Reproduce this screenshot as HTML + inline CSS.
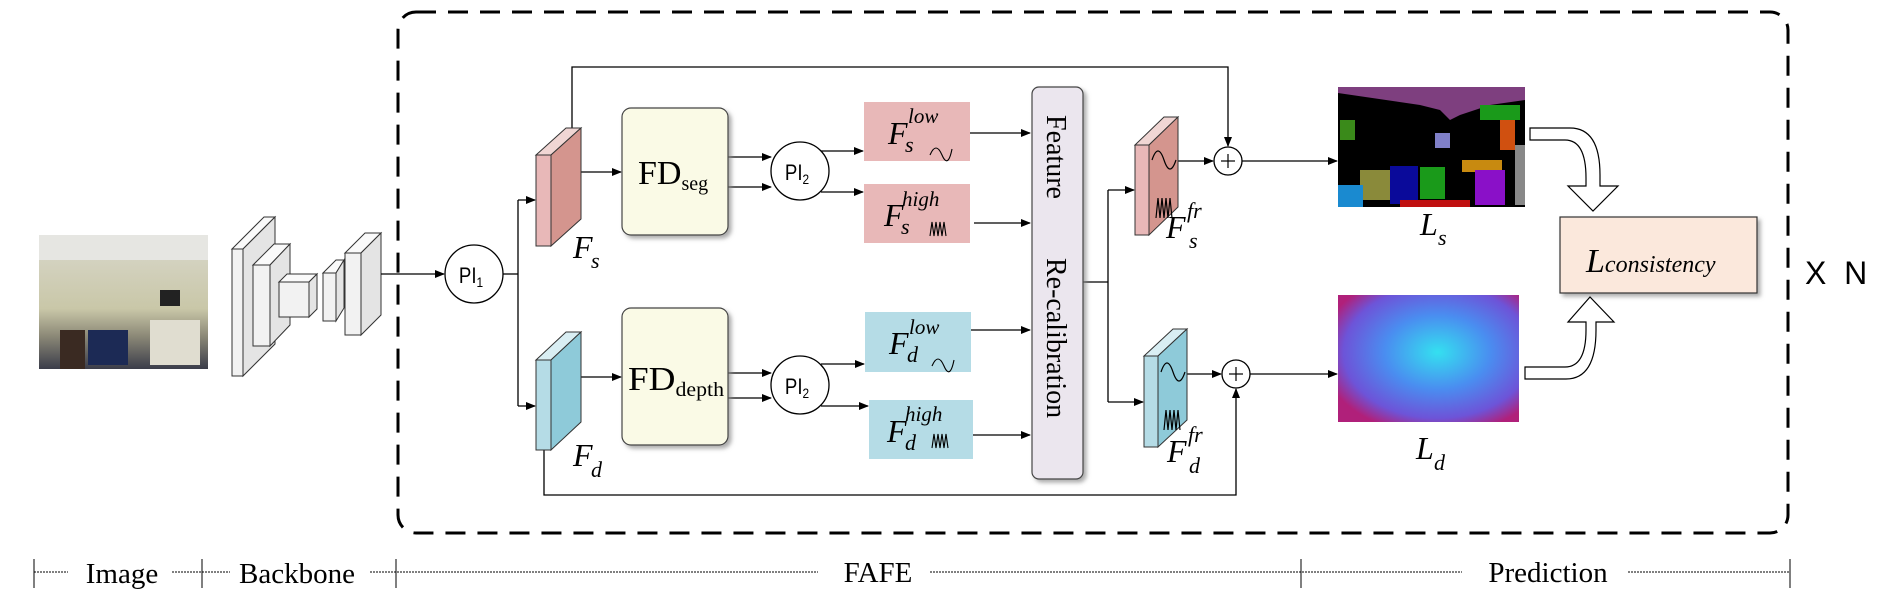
<!DOCTYPE html>
<html><head><meta charset="utf-8"><style>
html,body{margin:0;padding:0;background:#fff;}
svg{display:block;}
text{font-family:"Liberation Serif",serif;}
</style></head><body>
<svg width="1892" height="606" viewBox="0 0 1892 606" xmlns="http://www.w3.org/2000/svg">
<defs>
<marker id="ar" markerWidth="10" markerHeight="8" refX="9" refY="4" orient="auto" markerUnits="userSpaceOnUse"><path d="M0,0 L10,4 L0,8 z" fill="#000"/></marker>
<filter id="sh" x="-10%" y="-10%" width="130%" height="130%"><feDropShadow dx="3" dy="3" stdDeviation="2" flood-color="#888" flood-opacity="0.7"/></filter>
<linearGradient id="room" x1="0" y1="0" x2="0" y2="1"><stop offset="0" stop-color="#d9d8cc"/><stop offset="0.55" stop-color="#c9c7a8"/><stop offset="0.75" stop-color="#8d8a78"/><stop offset="1" stop-color="#3b3d4a"/></linearGradient>
<radialGradient id="dep" cx="0.55" cy="0.45" r="0.65"><stop offset="0" stop-color="#34e0f0"/><stop offset="0.45" stop-color="#4a8df0"/><stop offset="0.8" stop-color="#6d54d8"/><stop offset="1" stop-color="#b0207a"/></radialGradient>
</defs>

<rect x="398" y="12" width="1390" height="521" rx="18" fill="none" stroke="#000" stroke-width="3" stroke-dasharray="20,12"/>

<rect x="39" y="235" width="169" height="134" fill="url(#room)"/>
<rect x="39" y="235" width="169" height="25" fill="#e6e6e2"/>
<rect x="160" y="290" width="20" height="16" fill="#222"/>
<rect x="88" y="330" width="40" height="35" fill="#1c2a55"/>
<rect x="60" y="330" width="25" height="39" fill="#3a2a22"/>
<rect x="150" y="320" width="50" height="45" fill="#e0ddd0"/>

<g stroke="#333" stroke-width="1" fill="#f2f2f2">
<polygon points="232,249 264,217 275,217 243,249" fill="#fafafa"/>
<polygon points="243,249 275,217 275,344 243,376" fill="#e4e4e4"/>
<rect x="232" y="249" width="11" height="127"/>
<polygon points="253,265 274,244 290,244 270,265" fill="#fafafa"/>
<polygon points="270,265 290,244 290,325 270,346" fill="#e4e4e4"/>
<rect x="253" y="265" width="17" height="81"/>
<polygon points="279,282 287,274 317,274 309,282" fill="#fafafa"/>
<polygon points="309,282 317,274 317,309 309,317" fill="#e4e4e4"/>
<rect x="279" y="282" width="30" height="35"/>
<polygon points="323,273 336,260 344,260 336,273" fill="#fafafa"/>
<polygon points="336,273 344,260 344,308 336,321" fill="#e4e4e4"/>
<rect x="323" y="273" width="13" height="48"/>
<polygon points="345,253 365,233 381,233 361,253" fill="#fafafa"/>
<polygon points="361,253 381,233 381,315 361,335" fill="#e4e4e4"/>
<rect x="345" y="253" width="16" height="82"/>
</g>

<g stroke="#000" stroke-width="1.3" fill="none">
<line x1="381" y1="274" x2="444" y2="274" marker-end="url(#ar)"/>
<polyline points="503,274 518,274"/>
<line x1="518" y1="200" x2="518" y2="406"/>
<line x1="518" y1="200" x2="535" y2="200" marker-end="url(#ar)"/>
<line x1="518" y1="406" x2="535" y2="406" marker-end="url(#ar)"/>
<polyline points="572,128 572,67 1228,67 1228,146" marker-end="url(#ar)"/>
<line x1="581" y1="172" x2="621" y2="172" marker-end="url(#ar)"/>
<line x1="581" y1="377" x2="621" y2="377" marker-end="url(#ar)"/>
<line x1="728" y1="157" x2="771" y2="157" marker-end="url(#ar)"/>
<line x1="728" y1="187" x2="771" y2="187" marker-end="url(#ar)"/>
<line x1="728" y1="373" x2="771" y2="373" marker-end="url(#ar)"/>
<line x1="728" y1="398" x2="771" y2="398" marker-end="url(#ar)"/>
<line x1="821" y1="151" x2="863" y2="151" marker-end="url(#ar)"/>
<line x1="821" y1="192" x2="863" y2="192" marker-end="url(#ar)"/>
<line x1="821" y1="364" x2="864" y2="364" marker-end="url(#ar)"/>
<line x1="821" y1="406" x2="868" y2="406" marker-end="url(#ar)"/>
<line x1="970" y1="133" x2="1030" y2="133" marker-end="url(#ar)"/>
<line x1="974" y1="223" x2="1030" y2="223" marker-end="url(#ar)"/>
<line x1="971" y1="330" x2="1030" y2="330" marker-end="url(#ar)"/>
<line x1="973" y1="435" x2="1030" y2="435" marker-end="url(#ar)"/>
<line x1="1083" y1="282" x2="1108" y2="282"/>
<line x1="1108" y1="190" x2="1108" y2="402"/>
<line x1="1108" y1="190" x2="1134" y2="190" marker-end="url(#ar)"/>
<line x1="1108" y1="402" x2="1143" y2="402" marker-end="url(#ar)"/>
<line x1="1178" y1="161" x2="1213" y2="161" marker-end="url(#ar)"/>
<line x1="1187" y1="374" x2="1221" y2="374" marker-end="url(#ar)"/>
<line x1="1242" y1="161" x2="1337" y2="161" marker-end="url(#ar)"/>
<line x1="1250" y1="374" x2="1337" y2="374" marker-end="url(#ar)"/>
<polyline points="544,450 544,495 1236,495 1236,389" marker-end="url(#ar)"/>
</g>

<g stroke="#000" stroke-width="1.3" fill="#fff">
<circle cx="474" cy="274" r="29"/>
<circle cx="800" cy="171" r="29"/>
<circle cx="800" cy="385" r="29"/>
<circle cx="1228" cy="161" r="14"/>
<circle cx="1236" cy="374" r="14"/>
</g>
<g font-size="22" text-anchor="middle">
<text x="471" y="283" style="font-family:'Liberation Sans',sans-serif" transform="translate(471,283) scale(0.85,1) translate(-471,-283)">PI<tspan font-size="14" dy="4">1</tspan></text>
<text x="797" y="180" style="font-family:'Liberation Sans',sans-serif" transform="translate(797,180) scale(0.85,1) translate(-797,-180)">PI<tspan font-size="14" dy="4">2</tspan></text>
<text x="797" y="394" style="font-family:'Liberation Sans',sans-serif" transform="translate(797,394) scale(0.85,1) translate(-797,-394)">PI<tspan font-size="14" dy="4">2</tspan></text>
</g>
<g stroke="#000" stroke-width="1.2">
<line x1="1221" y1="161" x2="1235" y2="161"/><line x1="1228" y1="154" x2="1228" y2="168"/>
<line x1="1229" y1="374" x2="1243" y2="374"/><line x1="1236" y1="367" x2="1236" y2="381"/>
</g>

<g stroke="#333" stroke-width="1">
<polygon points="536,155 566,128 581,128 551,155" fill="#f0d6d4"/>
<polygon points="551,155 581,128 581,219 551,246" fill="#d4958e"/>
<rect x="536" y="155" width="15" height="91" fill="#e8b8b8"/>
<polygon points="536,360 566,332 581,332 551,360" fill="#d9eef3"/>
<polygon points="551,360 581,332 581,422 551,450" fill="#8ecad9"/>
<rect x="536" y="360" width="15" height="90" fill="#b5dce6"/>
<polygon points="1135,145 1164,117 1178,117 1149,145" fill="#f0d6d4"/>
<polygon points="1149,145 1178,117 1178,207 1149,235" fill="#d4958e"/>
<rect x="1135" y="145" width="14" height="90" fill="#e8b8b8"/>
<polygon points="1144,356 1173,329 1187,329 1158,356" fill="#d9eef3"/>
<polygon points="1158,356 1187,329 1187,420 1158,447" fill="#8ecad9"/>
<rect x="1144" y="356" width="14" height="91" fill="#b5dce6"/>
</g>
<g stroke="#000" stroke-width="1.2" fill="none">
<path d="M1152,160 q6,-18 12,0 t12,0"/>
<path d="M1156,218 l2,-20 l2,20 l2,-20 l2,20 l2,-20 l2,20 l2,-20 l2,20"/>
<path d="M1161,372 q6,-18 12,0 t12,0"/>
<path d="M1164,430 l2,-20 l2,20 l2,-20 l2,20 l2,-20 l2,20 l2,-20 l2,20"/>
</g>

<rect x="622" y="108" width="106" height="127" rx="9" fill="#fafae6" stroke="#444" stroke-width="1.2" filter="url(#sh)"/>
<rect x="622" y="308" width="106" height="137" rx="9" fill="#fafae6" stroke="#444" stroke-width="1.2" filter="url(#sh)"/>
<text x="638" y="184" font-size="34">FD<tspan font-size="20" dy="6">seg</tspan></text>
<text x="628" y="390" font-size="34" textLength="96" lengthAdjust="spacingAndGlyphs">FD<tspan font-size="20" dy="6">depth</tspan></text>

<rect x="864" y="102" width="106" height="59" fill="#e8b8b8"/>
<rect x="864" y="184" width="106" height="59" fill="#e8b8b8"/>
<rect x="865" y="312" width="106" height="60" fill="#b5dce6"/>
<rect x="869" y="400" width="104" height="59" fill="#b5dce6"/>
<g font-style="italic">
<text x="888" y="144" font-size="32">F</text><text x="908" y="123" font-size="21">low</text><text x="905" y="152" font-size="22">s</text>
<text x="884" y="226" font-size="32">F</text><text x="902" y="206" font-size="21">high</text><text x="901" y="234" font-size="22">s</text>
<text x="889" y="354" font-size="32">F</text><text x="909" y="334" font-size="21">low</text><text x="907" y="362" font-size="22">d</text>
<text x="887" y="442" font-size="32">F</text><text x="905" y="421" font-size="21">high</text><text x="905" y="450" font-size="22">d</text>
</g>
<g stroke="#000" stroke-width="1.1" fill="none">
<path d="M930,155 q6,-14 12,0 t10,-6"/>
<path d="M930,236 l2,-14 l2,14 l2,-14 l2,14 l2,-14 l2,14 l2,-14 l2,14"/>
<path d="M932,366 q6,-14 12,0 t10,-6"/>
<path d="M932,448 l2,-14 l2,14 l2,-14 l2,14 l2,-14 l2,14 l2,-14 l2,14"/>
</g>

<rect x="1032" y="87" width="51" height="392" rx="7" fill="#ebe6ee" stroke="#444" stroke-width="1.2" filter="url(#sh)"/>
<text transform="translate(1047,115) rotate(90)" font-size="28">Feature</text>
<text transform="translate(1047,258) rotate(90)" font-size="28">Re-calibration</text>

<g font-style="italic">
<text x="573" y="258" font-size="32">F</text><text x="591" y="268" font-size="22">s</text>
<text x="573" y="466" font-size="32">F</text><text x="591" y="477" font-size="22">d</text>
<text x="1166" y="238" font-size="32">F</text><text x="1187" y="218" font-size="22">fr</text><text x="1189" y="248" font-size="22">s</text>
<text x="1167" y="462" font-size="32">F</text><text x="1188" y="442" font-size="22">fr</text><text x="1189" y="473" font-size="22">d</text>
<text x="1420" y="235" font-size="32">L</text><text x="1438" y="245" font-size="22">s</text>
<text x="1416" y="459" font-size="32">L</text><text x="1434" y="470" font-size="22">d</text>
</g>

<rect x="1338" y="87" width="187" height="120" fill="#000"/>
<polygon points="1338,87 1525,87 1525,100 1490,105 1460,115 1450,120 1440,110 1420,105 1338,93" fill="#7e3f7f"/>
<rect x="1340" y="120" width="15" height="20" fill="#3a8a1a"/>
<rect x="1435" y="133" width="15" height="15" fill="#8080c8"/>
<rect x="1360" y="170" width="30" height="30" fill="#8a8a3a"/>
<rect x="1390" y="166" width="28" height="38" fill="#0a0a9a"/>
<rect x="1420" y="167" width="25" height="32" fill="#1a9a1a"/>
<rect x="1462" y="160" width="40" height="12" fill="#c88a10"/>
<rect x="1475" y="170" width="30" height="35" fill="#8a10c8"/>
<rect x="1500" y="115" width="15" height="35" fill="#d05010"/>
<rect x="1515" y="145" width="10" height="60" fill="#888"/>
<rect x="1338" y="185" width="25" height="22" fill="#1a8ad0"/>
<rect x="1480" y="105" width="40" height="15" fill="#1a9a1a"/>
<rect x="1400" y="200" width="70" height="7" fill="#c01010"/>

<rect x="1338" y="295" width="181" height="127" fill="url(#dep)"/>

<rect x="1560" y="217" width="197" height="76" fill="#fbe8dc" stroke="#333" stroke-width="1.2" filter="url(#sh)"/>
<text x="1586" y="272" font-size="34" font-style="italic">L<tspan font-size="24">consistency</tspan></text>

<path d="M1530,128 L1570,128 Q1600,128 1600,175 L1600,186 L1618,186 L1593,211 L1568,186 L1586,186 L1586,178 Q1586,140 1565,140 L1530,140 Z" fill="#fff" stroke="#000" stroke-width="1.2"/>
<path d="M1525,367 L1565,367 Q1586,367 1586,330 L1586,322 L1568,322 L1590,297 L1614,322 L1596,322 L1596,330 Q1596,379 1566,379 L1525,379 Z" fill="#fff" stroke="#000" stroke-width="1.2"/>

<text x="1805" y="284" font-size="32" style="font-family:'Liberation Sans',sans-serif">X&#160;&#160;N</text>

<g stroke="#000" stroke-width="1">
<line x1="34" y1="559" x2="34" y2="588"/><line x1="202" y1="559" x2="202" y2="588"/>
<line x1="396" y1="559" x2="396" y2="588"/><line x1="1301" y1="559" x2="1301" y2="588"/>
<line x1="1790" y1="559" x2="1790" y2="588"/>
</g>
<g stroke="#000" stroke-width="1" stroke-dasharray="2,1">
<line x1="34" y1="572" x2="68" y2="572"/><line x1="172" y1="572" x2="230" y2="572"/>
<line x1="370" y1="572" x2="818" y2="572"/><line x1="930" y1="572" x2="1462" y2="572"/>
<line x1="1628" y1="572" x2="1790" y2="572"/>
</g>
<g font-size="29" text-anchor="middle">
<text x="122" y="583">Image</text>
<text x="297" y="583">Backbone</text>
<text x="878" y="582">FAFE</text>
<text x="1548" y="582">Prediction</text>
</g>
</svg>
</body></html>
